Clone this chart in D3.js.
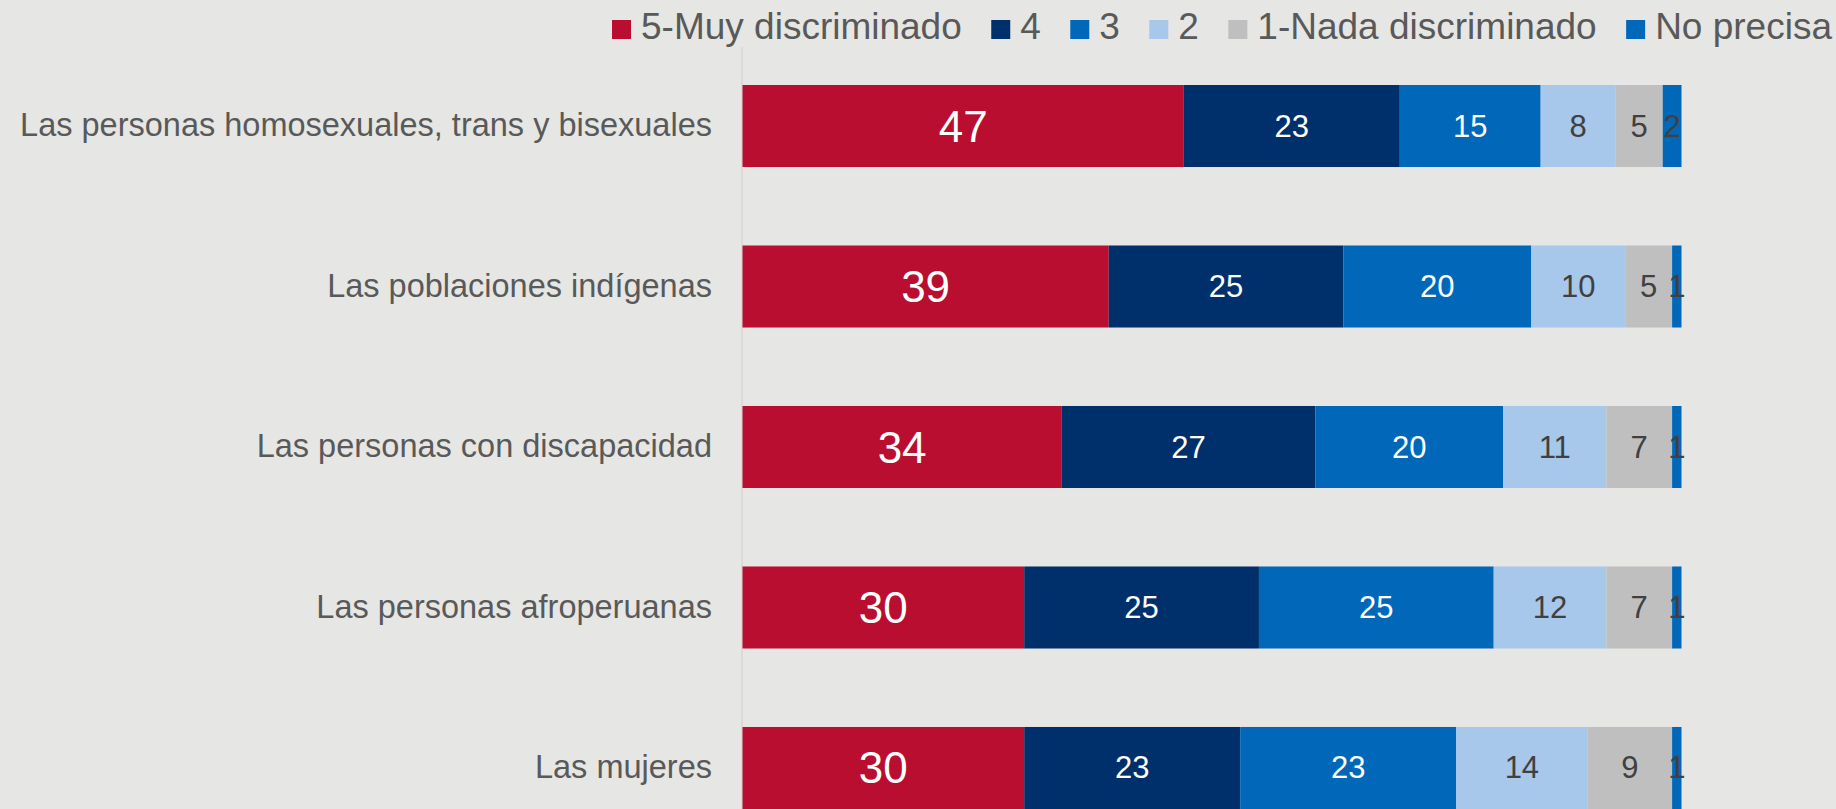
<!DOCTYPE html>
<html><head><meta charset="utf-8">
<script src="https://cdn.jsdelivr.net/npm/d3@7"></script>
<style>html,body{margin:0;padding:0;background:#e6e6e4;overflow:hidden}</style>
</head><body>
<svg id="c" width="1836" height="809"></svg>
<script>
const categories = [
  "Las personas homosexuales, trans y bisexuales",
  "Las poblaciones indígenas",
  "Las personas con discapacidad",
  "Las personas afroperuanas",
  "Las mujeres"
];
const seriesNames = ["5-Muy discriminado","4","3","2","1-Nada discriminado","No precisa"];
const muy = [47,39,34,30,30];
const cuatro = [23,25,27,25,23];
const tres = [15,20,20,25,23];
const dos = [8,10,11,12,14];
const nada = [5,5,7,7,9];
const noPrecisa = [2,1,1,1,1];
const seriesValues = [muy,cuatro,tres,dos,nada,noPrecisa];
const colors = ["#b90e2f","#00306b","#0067b9","#a7c7eb","#bfbfbf","#0067b9"];
const labelColors = ["#ffffff","#ffffff","#ffffff","#404040","#404040","#404040"];

const svg = d3.select("#c");
const font = "'Liberation Sans', Arial, sans-serif";

const x = d3.scaleLinear().domain([0,100]).range([742.5,1681.5]);
const y = d3.scaleBand().domain(categories).range([85,809]).paddingInner(0.489).paddingOuter(0);

// axis line
svg.append("line").attr("x1",742).attr("x2",742).attr("y1",47).attr("y2",809)
  .attr("stroke","#d6d6d6").attr("stroke-width",1.5);

// rows
const rows = categories.map((c,i)=>{
  let acc=0;
  return seriesValues.map((s,k)=>{const v=s[i]; const d={cat:c,k,v,x0:acc,x1:acc+v}; acc+=v; return d;});
}).flat();

svg.selectAll("rect.bar").data(rows).enter().append("rect")
  .attr("x",d=>x(d.x0)).attr("width",d=>x(d.x1)-x(d.x0))
  .attr("y",d=>y(d.cat)).attr("height",y.bandwidth())
  .attr("fill",d=>colors[d.k]);

svg.selectAll("text.val").data(rows).enter().append("text")
  .attr("x",d=>(x(d.x0)+x(d.x1))/2).attr("y",d=>y(d.cat)+y.bandwidth()/2)
  .attr("text-anchor","middle").attr("dominant-baseline","central")
  .attr("font-family",font).attr("font-size",d=>d.k===0?44:31)
  .attr("fill",d=>labelColors[d.k]).text(d=>d.v);

// category axis
const yAxis = d3.axisLeft(y).tickSize(0).tickPadding(0);
const ga = svg.append("g").attr("transform","translate(712,0)").call(yAxis);
ga.select(".domain").remove();
ga.selectAll("text").attr("font-family",font).attr("font-size",32.5).attr("fill","#595959");

// legend (justified between left and right edges)
const legL = 612, legR = 1832, sq = 19, off = 29;
const lg = svg.append("g");
const items = seriesNames.map((n,k)=>{
  const r = lg.append("rect").attr("y",20).attr("width",sq).attr("height",sq).attr("fill",colors[k]);
  const t = lg.append("text").attr("y",39)
    .attr("font-family",font).attr("font-size",37).attr("fill","#595959").text(n);
  return {r,t,w:t.node().getComputedTextLength()};
});
const total = d3.sum(items,d=>d.w) + items.length*off;
const gap = (legR - legL - total)/(items.length-1);
let lx = legL;
items.forEach(it=>{
  it.r.attr("x",lx); it.t.attr("x",lx+off);
  lx += off + it.w + gap;
});
</script>
</body></html>
